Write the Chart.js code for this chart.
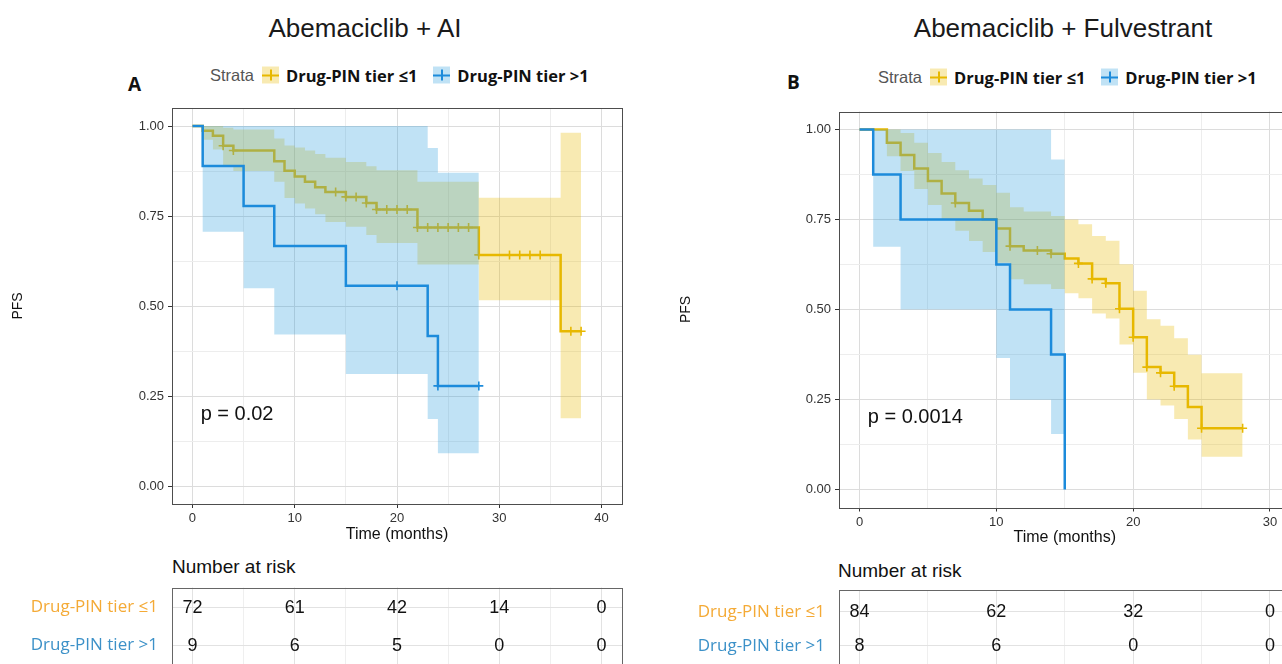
<!DOCTYPE html>
<html><head><meta charset="utf-8">
<script src="https://cdn.jsdelivr.net/npm/chart.js@4.4.1/dist/chart.umd.min.js"></script>
<style>
html,body{margin:0;padding:0;width:1282px;height:664px;overflow:hidden;background:#fff;font-family:"Liberation Sans",Arial,sans-serif;}
.abs{position:absolute;white-space:nowrap;}
canvas{position:absolute;}
.title{font-size:26px;color:#1a1a1a;transform:translate(-50%,-50%);}
.panel{font-family:"Open Sans";font-weight:700;font-size:19px;color:#111;transform:translateY(-50%);}
.legend{display:flex;align-items:center;transform:translateY(-50%);}
.strata{font-size:16.5px;color:#555;margin-right:8px;}
.leglab{font-family:"Open Sans";font-weight:700;font-size:16.5px;color:#111;}
.key{position:relative;width:17px;height:17px;margin-right:7px;}
.key .h{position:absolute;left:0;right:0;top:7.5px;height:2px;}
.key .v{position:absolute;top:3px;bottom:3px;left:7.5px;width:2px;}
.nar{font-size:19px;color:#111;transform:translateY(-50%);}
</style></head><body>
<div class="abs title" style="left:365px;top:28px">Abemaciclib + AI</div>
<div class="abs title" style="left:1063px;top:28px">Abemaciclib + Fulvestrant</div>
<div class="abs panel" style="left:128px;top:84px">A</div>
<div class="abs panel" style="left:787px;top:82px">B</div>
<div class="abs legend" id="legA" style="left:210px;top:75px"></div>
<div class="abs legend" id="legB" style="left:878px;top:77px"></div>
<div class="abs nar" style="left:172px;top:567px">Number at risk</div>
<div class="abs nar" style="left:838px;top:571px">Number at risk</div>
<canvas id="kmA" width="640" height="550" style="left:0;top:0"></canvas>
<canvas id="kmB" width="660" height="550" style="left:660px;top:0"></canvas>
<canvas id="rkA" width="640" height="150" style="left:0;top:550px"></canvas>
<canvas id="rkB" width="660" height="150" style="left:660px;top:550px"></canvas>
<script>
// ---------------- DATA ----------------
const strata = ["Drug-PIN tier \u22641", "Drug-PIN tier >1"];

// Panel A: Abemaciclib + AI
const aLowTime   = [0,1,2,3,4,8,9,10,11,12,13,15,17,18,22,28,36,38];
const aLowSurv   = [1,0.987,0.973,0.945,0.932,0.902,0.876,0.860,0.845,0.830,0.817,0.803,0.786,0.768,0.718,0.642,0.430,0.430];
const aLowUpper  = [1,1,1,0.995,0.990,0.965,0.946,0.940,0.932,0.922,0.912,0.900,0.888,0.877,0.845,0.801,0.981,0.981];
const aLowLower  = [1,0.962,0.935,0.891,0.875,0.845,0.800,0.785,0.771,0.755,0.733,0.720,0.697,0.675,0.615,0.516,0.188,0.188];
const aLowCensor = [3,4,14,15,16,17,18,19,20,21,22,23,24,25,26,27,28,31,32,33,34,37,38];

const aHighTime   = [0,1,5,8,15,23,24,28];
const aHighSurv   = [1,0.889,0.778,0.667,0.556,0.417,0.278,0.278];
const aHighUpper  = [1,1,1,1,1,0.939,0.870,0.870];
const aHighLower  = [1,0.706,0.549,0.421,0.311,0.186,0.091,0.091];
const aHighCensor = [20,24,28];

const aRiskTime = [0,10,20,30,40];
const aRiskLow  = [72,61,42,14,0];
const aRiskHigh = [9,6,5,0,0];
const aPval = "p = 0.02";

// Panel B: Abemaciclib + Fulvestrant
const bLowTime   = [0,2,3,4,5,6,7,8,9,10,11,12,14,15,16,17,18,19,20,21,22,23,24,25,28];
const bLowSurv   = [1,0.963,0.929,0.892,0.857,0.822,0.796,0.774,0.751,0.725,0.676,0.664,0.655,0.642,0.628,0.585,0.573,0.502,0.423,0.340,0.324,0.287,0.229,0.170,0.170];
const bLowUpper  = [1,1,0.990,0.963,0.935,0.910,0.887,0.864,0.846,0.824,0.784,0.772,0.760,0.750,0.737,0.704,0.691,0.626,0.552,0.473,0.455,0.420,0.374,0.323,0.323];
const bLowLower  = [1,0.926,0.885,0.835,0.790,0.751,0.719,0.690,0.660,0.630,0.584,0.570,0.557,0.545,0.531,0.489,0.475,0.403,0.324,0.250,0.233,0.196,0.139,0.091,0.091];
const bLowCensor = [7,11,13,14,16,17,18,19,20,21,22,23,25,28];

const bHighTime   = [0,1,3,10,11,14,15];
const bHighSurv   = [1,0.875,0.750,0.625,0.500,0.375,0];
const bHighUpper  = [1,1,1,1,1,0.917,0.917];
const bHighLower  = [1,0.674,0.500,0.365,0.249,0.154,0.154];
const bHighCensor = [];

const bRiskTime = [0,10,20,30];
const bRiskLow  = [84,62,32,0];
const bRiskHigh = [8,6,0,0];
const bPval = "p = 0.0014";

// Axis ticks
const yTicks = [0,0.125,0.25,0.375,0.5,0.625,0.75,0.875,1];
const yMajor = [0,0.25,0.5,0.75,1];
const yLabels = ["0.00","0.25","0.50","0.75","1.00"];
const aXTicks = [0,5,10,15,20,25,30,35,40];
const aXMajor = [0,10,20,30,40];
const bXTicks = [0,5,10,15,20,25,30];
const bXMajor = [0,10,20,30];

// ---------------- STYLE ----------------
const YEL = '#E7B800', BLU = '#1c8bdb';
const YELF = 'rgba(231,184,0,0.3)', BLUF = 'rgba(46,159,223,0.3)';
const lineCols = [YEL, BLU], fillCols = [YELF, BLUF];
const rowCols = ['#F4AA36', '#3C91C8'];
const TRANSP = 'rgba(0,0,0,0)';

// legends
function buildLegend(id){
  const el = document.getElementById(id);
  let h = '<span class="strata">Strata</span>';
  strata.forEach((s,i)=>{
    h += '<span class="key" style="background:'+fillCols[i]+'"><span class="h" style="background:'+lineCols[i]+'"></span><span class="v" style="background:'+lineCols[i]+'"></span></span>';
    h += '<span class="leglab" style="margin-right:'+(i===0?16:0)+'px">'+s+'</span>';
  });
  el.innerHTML = h;
}
buildLegend('legA'); buildLegend('legB');

// helpers
function stepAt(times, vals, t){ let v = vals[0]; for (let i=0;i<times.length;i++){ if (times[i] <= t) v = vals[i]; } return v; }
function pts(times, vals){ return times.map((t,i)=>({x:t, y:vals[i]})); }

function groupSets(g, ci){
  const col = lineCols[ci];
  return [
    {data: g.censor.map(t=>({x:t, y:stepAt(g.time, g.surv, t)})), showLine:false, pointStyle:'cross', pointRadius:4.5, pointBorderWidth:1.6, pointBorderColor:col, pointBackgroundColor:col, borderColor:col},
    {data: pts(g.time, g.surv), stepped:true, borderColor:col, borderWidth:2.5, pointRadius:0, fill:false},
    {data: pts(g.time, g.upper), stepped:true, borderColor:TRANSP, borderWidth:1, pointRadius:0, fill:'+1', backgroundColor:fillCols[ci]},
    {data: pts(g.time, g.lower), stepped:true, borderColor:TRANSP, borderWidth:1, pointRadius:0, fill:false}
  ];
}

const framePlugin = {
  id:'frame',
  afterDraw(chart, args, opts){
    const a = chart.chartArea, c = chart.ctx;
    c.save(); c.strokeStyle = opts.color || '#4d4d4d'; c.lineWidth = 1;
    c.strokeRect(Math.round(a.left)+0.5, Math.round(a.top)+0.5, Math.round(a.right-a.left), Math.round(a.bottom-a.top));
    c.restore();
  }
};
const pvalPlugin = {
  id:'pval',
  afterDatasetsDraw(chart, args, opts){
    if (!opts.text) return;
    const c = chart.ctx;
    c.save(); c.font = '20px "Liberation Sans", Arial'; c.fillStyle = '#111';
    c.textAlign = 'left'; c.textBaseline = 'middle';
    c.fillText(opts.text, chart.scales.x.getPixelForValue(opts.x), chart.scales.y.getPixelForValue(opts.y));
    c.restore();
  }
};
const riskTextPlugin = {
  id:'risktext',
  afterDatasetsDraw(chart){
    const c = chart.ctx;
    c.save(); c.font = '18px "Liberation Sans", Arial'; c.fillStyle = '#111';
    c.textAlign = 'center'; c.textBaseline = 'middle';
    chart.data.datasets.forEach((ds, i)=>{
      chart.getDatasetMeta(i).data.forEach((el, j)=>{ c.fillText(String(ds.data[j].n), el.x, el.y); });
    });
    c.restore();
  }
};

function kmChart(id, cfg){
  const low = {time:cfg.low[0], surv:cfg.low[1], upper:cfg.low[2], lower:cfg.low[3], censor:cfg.low[4]};
  const high = {time:cfg.high[0], surv:cfg.high[1], upper:cfg.high[2], lower:cfg.high[3], censor:cfg.high[4]};
  const datasets = groupSets(high, 1).concat(groupSets(low, 0));
  return new Chart(document.getElementById(id), {
    type:'line',
    data:{datasets},
    plugins:[framePlugin, pvalPlugin],
    options:{
      responsive:false, animation:false, devicePixelRatio:1,
      events:[],
      layout:{padding:{top:cfg.top, right:cfg.right, left:0, bottom:0}},
      plugins:{legend:{display:false}, tooltip:{enabled:false}, frame:{color:'#4d4d4d'},
               pval:{text:cfg.pval, x:cfg.pvalX, y:0.2}},
      scales:{
        x:{type:'linear', min:cfg.xmin, max:cfg.xmax,
           afterBuildTicks:s=>{ s.ticks = cfg.xTicks.map(v=>({value:v})); },
           afterFit:s=>{ s.height = cfg.xH; },
           ticks:{autoSkip:false, maxRotation:0, padding:3, color:'#333', font:{family:'Liberation Sans', size:13},
                  callback:v=> cfg.xMajor.includes(v) ? String(v) : ''},
           grid:{color:c=> (c.tick && cfg.xMajor.includes(c.tick.value)) ? '#dcdcdc' : '#ededed',
                 tickColor:c=> (c.tick && cfg.xMajor.includes(c.tick.value)) ? '#333' : TRANSP,
                 tickLength:4, drawTicks:true},
           border:{display:false},
           title:{display:true, text:'Time (months)', color:'#111', font:{family:'Liberation Sans', size:16}, padding:{top:0, bottom:cfg.xTitlePad}}},
        y:{type:'linear', min:-0.05, max:1.05,
           afterBuildTicks:s=>{ s.ticks = yTicks.map(v=>({value:v})); },
           afterFit:s=>{ s.width = cfg.yW; },
           ticks:{autoSkip:false, padding:4, color:'#333', font:{family:'Liberation Sans', size:13},
                  callback:v=>{ const k = yMajor.indexOf(v); return k>=0 ? yLabels[k] : ''; }},
           grid:{color:c=> (c.tick && yMajor.includes(c.tick.value)) ? '#dcdcdc' : '#ededed',
                 tickColor:c=> (c.tick && yMajor.includes(c.tick.value)) ? '#333' : TRANSP,
                 tickLength:4, drawTicks:true},
           border:{display:false},
           title:{display:true, text:'PFS', color:'#111', font:{family:'Liberation Sans', size:14}, padding:{top:cfg.yTitlePad, bottom:0}}}
      }
    }
  });
}

function riskChart(id, cfg){
  const rows = [cfg.low, cfg.high];
  const datasets = rows.map((counts, r)=>({
    data: cfg.times.map((t,i)=>({x:t, y:r+1, n:counts[i]})),
    showLine:false, pointRadius:0
  }));
  return new Chart(document.getElementById(id), {
    type:'line',
    data:{datasets},
    plugins:[framePlugin, riskTextPlugin],
    options:{
      responsive:false, animation:false, devicePixelRatio:1, events:[],
      layout:{padding:{top:cfg.top, right:cfg.right, left:0, bottom:cfg.bottom}},
      plugins:{legend:{display:false}, tooltip:{enabled:false}, frame:{color:'#666'}},
      scales:{
        x:{type:'linear', min:cfg.xmin, max:cfg.xmax,
           afterBuildTicks:s=>{ s.ticks = cfg.xTicks.map(v=>({value:v})); },
           afterFit:s=>{ s.height = 0; },
           ticks:{display:false},
           grid:{color:c=> (c.tick && cfg.xMajor.includes(c.tick.value)) ? '#e2e2e2' : '#efefef', drawTicks:false},
           border:{display:false}},
        y:{type:'linear', min:cfg.ymin, max:cfg.ymax, reverse:true,
           afterBuildTicks:s=>{ s.ticks = [1,2].map(v=>({value:v})); },
           afterFit:s=>{ s.width = cfg.yW; },
           ticks:{autoSkip:false, padding:14, color:c=> rowCols[c.index], font:{family:'Open Sans', size:17},
                  callback:v=> strata[v-1]},
           grid:{color:'#e2e2e2', drawTicks:false},
           border:{display:false}}
      }
    }
  });
}

kmChart('kmA', {low:[aLowTime,aLowSurv,aLowUpper,aLowLower,aLowCensor], high:[aHighTime,aHighSurv,aHighUpper,aHighLower,aHighCensor],
  top:108, right:18, xmin:-2, xmax:42, xTicks:aXTicks, xMajor:aXMajor, xH:46, xTitlePad:6, yW:172, yTitlePad:10,
  pval:aPval, pvalX:0.8});
kmChart('kmB', {low:[bLowTime,bLowSurv,bLowUpper,bLowLower,bLowCensor], high:[bHighTime,bHighSurv,bHighUpper,bHighLower,bHighCensor],
  top:111.5, right:29.5, xmin:-1.5, xmax:31.5, xTicks:bXTicks, xMajor:bXMajor, xH:42.5, xTitlePad:2.5, yW:179, yTitlePad:17.5,
  pval:bPval, pvalX:0.6});
riskChart('rkA', {times:aRiskTime, low:aRiskLow, high:aRiskHigh, top:37.5, bottom:34.2, right:18, xmin:-2, xmax:42,
  xTicks:aXTicks, xMajor:aXMajor, yW:172, ymin:0.47, ymax:2.53});
riskChart('rkB', {times:bRiskTime, low:bRiskLow, high:bRiskHigh, top:40, bottom:32.2, right:29.5, xmin:-1.5, xmax:31.5,
  xTicks:bXTicks, xMajor:bXMajor, yW:179, ymin:0.36, ymax:2.64});
</script>
</body></html>
